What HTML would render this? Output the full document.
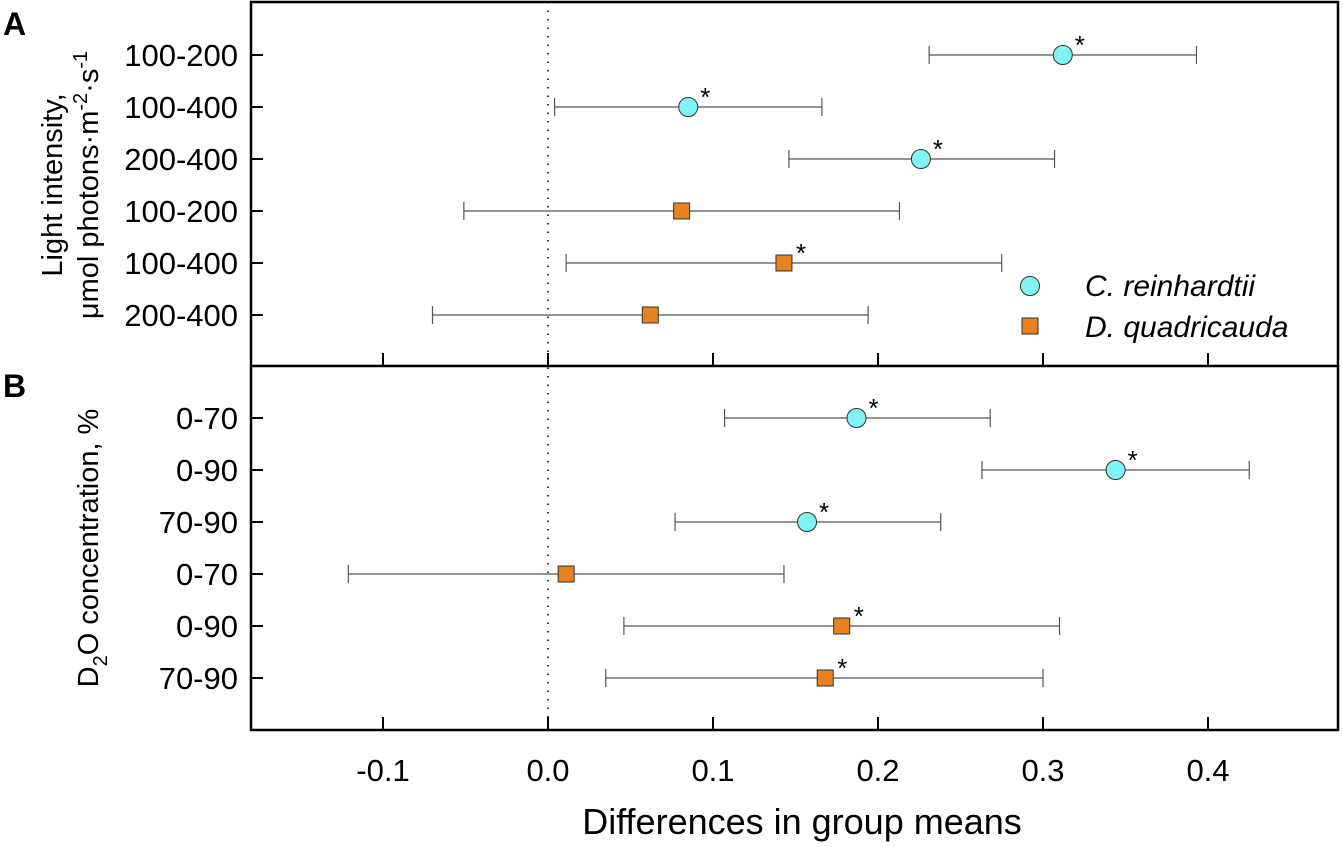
<!DOCTYPE html>
<html><head><meta charset="utf-8"><style>
body{margin:0;background:#fff}
svg text{font-family:"Liberation Sans",sans-serif;fill:#000}
</style></head><body>
<svg id="chart" width="1343" height="842" xmlns="http://www.w3.org/2000/svg">
<g id="frame"></g>
<g id="marks"></g>
<text x="3" y="35" font-size="32" font-weight="bold">A</text>
<text x="3" y="397" font-size="32" font-weight="bold">B</text>
<text transform="translate(62,185) rotate(-90)" font-size="29" text-anchor="middle">Light intensity,</text>
<text transform="translate(98,185) rotate(-90)" font-size="29" text-anchor="middle">μmol photons·m<tspan dy="-11" font-size="20">-2</tspan><tspan dy="11">·s</tspan><tspan dy="-11" font-size="20">-1</tspan></text>
<text transform="translate(98,548) rotate(-90)" font-size="29" text-anchor="middle">D<tspan dy="9" font-size="20">2</tspan><tspan dy="-9">O concentration, %</tspan></text>
<text x="802" y="834" font-size="36" text-anchor="middle">Differences in group means</text>
<g>
<circle cx="1030" cy="286" r="9.5" fill="#80F4F4" stroke="#333" stroke-width="1"/>
<text x="1085" y="296" font-size="30" font-style="italic">C. reinhardtii</text>
<rect x="1022" y="318" width="16" height="16" fill="#E8821E" stroke="#333" stroke-width="1"/>
<text x="1085" y="337" font-size="30" font-style="italic">D. quadricauda</text>
</g>
</svg>
<script>
const xTicks=[-0.1,0.0,0.1,0.2,0.3,0.4];
const xTickLabels=["-0.1","0.0","0.1","0.2","0.3","0.4"];
const labelsA=["100-200","100-400","200-400","100-200","100-400","200-400"];
const labelsB=["0-70","0-90","70-90","0-70","0-90","70-90"];
const speciesA=["C","C","C","D","D","D"];
const speciesB=["C","C","C","D","D","D"];
const meanA=[0.312,0.085,0.226,0.081,0.143,0.062];
const lowA=[0.231,0.004,0.146,-0.051,0.011,-0.070];
const highA=[0.393,0.166,0.307,0.213,0.275,0.194];
const sigA=[1,1,1,0,1,0];
const meanB=[0.187,0.344,0.157,0.011,0.178,0.168];
const lowB=[0.107,0.263,0.077,-0.121,0.046,0.035];
const highB=[0.268,0.425,0.238,0.143,0.310,0.300];
const sigB=[1,1,1,0,1,1];

const NS="http://www.w3.org/2000/svg";
const X=v=>548+v*1650;
const L=251,R=1338,T=2,M=366,B=730;
function mk(tag,attrs,parent){const e=document.createElementNS(NS,tag);for(const k in attrs)e.setAttribute(k,attrs[k]);parent.appendChild(e);return e;}
const frame=document.getElementById('frame'),marks=document.getElementById('marks');
let r=mk('rect',{x:L,y:T,width:R-L,height:B-T,fill:'none',stroke:'#000','stroke-width':2.5},frame);


let m=mk('line',{x1:L,x2:R,y1:M,y2:M,stroke:'#000','stroke-width':2.5},frame);


let z=mk('line',{x1:X(0),x2:X(0),y1:T,y2:B,stroke:'#000','stroke-width':1.5,'stroke-dasharray':'1.5,7'},frame);


xTicks.forEach((v,i)=>{
  [M,B].forEach(y=>{
    const t=mk('line',{x1:X(v),x2:X(v),y1:y,y2:y-13,stroke:'#000','stroke-width':2},frame);
    
    
  });
  const tl=mk('text',{x:X(v),y:781,'font-size':31,'text-anchor':'middle'},frame);
  tl.textContent=xTickLabels[i];
  
  
});
function panel(y0,labels,sp,mean,low,high,sig,tag){
  labels.forEach((lab,i)=>{
    const y=y0+i*52;
    const t=mk('line',{x1:L,x2:L+12,y1:y,y2:y,stroke:'#000','stroke-width':2},frame);
    
    
    const tl=mk('text',{x:238,y:y+11,'font-size':31,'text-anchor':'end'},frame);
    tl.textContent=lab;
    
    
    const g=mk('g',{},marks);
    
    
    const x1=X(low[i]),x2=X(high[i]),xm=X(mean[i]);
    mk('line',{x1:x1,x2:x2,y1:y,y2:y,stroke:'#555','stroke-width':1.2},g);
    mk('line',{x1:x1,x2:x1,y1:y-9,y2:y+9,stroke:'#555','stroke-width':1.2},g);
    mk('line',{x1:x2,x2:x2,y1:y-9,y2:y+9,stroke:'#555','stroke-width':1.2},g);
    if(sp[i]==='C')mk('circle',{cx:xm,cy:y,r:9.5,fill:'#80F4F4',stroke:'#333','stroke-width':1},g);
    else mk('rect',{x:xm-8,y:y-8,width:16,height:16,fill:'#E8821E',stroke:'#333','stroke-width':1},g);
    if(sig[i]){const s=mk('text',{x:xm+12,y:y-1,'font-size':26},g);s.textContent='*';}
  });
}
panel(55,labelsA,speciesA,meanA,lowA,highA,sigA,'panel-a');
panel(418,labelsB,speciesB,meanB,lowB,highB,sigB,'panel-b');
</script>
</body></html>
